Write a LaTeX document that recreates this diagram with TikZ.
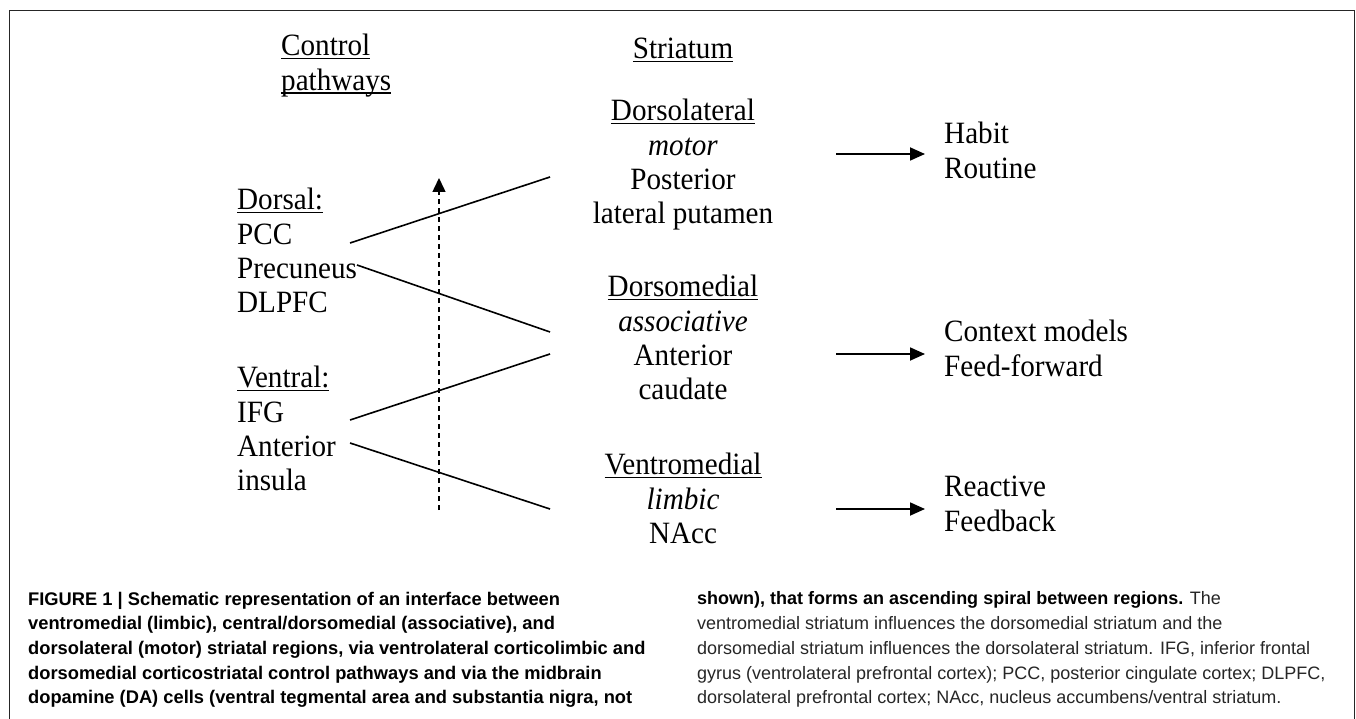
\documentclass[tikz,border=0pt]{standalone}
\usepackage{fontspec}
\setmainfont{Liberation Serif}[FakeStretch=0.94]
\newfontfamily\capfont{Liberation Sans}
\usetikzlibrary{arrows.meta}

% underline at a fixed depth (crosses descenders like the original)
\newcommand{\uword}[1]{\setbox0=\hbox{#1}\rlap{\rule[-3.7pt]{\wd0}{1.3pt}}\box0}

\begin{document}
\begin{tikzpicture}[x=1pt,y=-1pt,
    lbl/.style={font=\fontsize{31}{34.3}\selectfont, inner sep=0pt, execute at begin node=\strut},
    capt/.style={font=\capfont\fontsize{18}{24.7}\selectfont, inner sep=0pt, align=left, anchor=north west, execute at begin node=\strut},
    link/.style={line width=1.6pt},
    outarrow/.style={line width=1.8pt, -{Triangle[length=15pt,width=13pt]}, shorten >=19pt},
    spiral/.style={line width=1.5pt, dash pattern=on 5pt off 4pt, -{Triangle[length=14pt,width=13pt]}}
  ]
    % ==== Page and frame ====
    \useasboundingbox (0,0) rectangle (1356,719);
    \draw[line width=1pt, black!85] (9,725) -- (9,11) -- (1354,11) -- (1354,725);

    % Column headings
    \node[lbl, anchor=north west, align=left] (ctrl) at (281,34) {\uword{Control}\\\uword{pathways}};
    \node[lbl, anchor=north] (striatum) at (683,34) {\uword{Striatum}};

    % Control pathways (left column)
    \node[lbl, anchor=north west, align=left] (dorsal) at (237,188)
        {\uword{Dorsal:}\\PCC\\Precuneus\\DLPFC};
    \node[lbl, anchor=north west, align=left] (ventral) at (237,366)
        {\uword{Ventral:}\\IFG\\Anterior\\insula};

    % Striatal regions (middle column)
    \node[lbl, anchor=north, align=center] (dlat) at (683,99)
        {\uword{Dorsolateral}\\\textit{motor}\\Posterior\\lateral putamen};
    \node[lbl, anchor=north, align=center] (dmed) at (683,275)
        {\uword{Dorsomedial}\\\textit{associative}\\Anterior\\caudate};
    \node[lbl, anchor=north, align=center] (vmed) at (683,453)
        {\uword{Ventromedial}\\\textit{limbic}\\NAcc};

    % Outcomes (right column)
    \node[lbl, anchor=north west, align=left] (habit) at (944,122) {Habit\\Routine};
    \node[lbl, anchor=north west, align=left] (context) at (944,320) {Context models\\Feed-forward};
    \node[lbl, anchor=north west, align=left] (reactive) at (944,476) {Reactive\\Feedback};

    % ==== Connector ends ====
    \coordinate (pcc-e) at (350,243);
    \coordinate (prec-e) at (357,265);
    \coordinate (ifg-e) at (350,420);
    \coordinate (ins-e) at (350,443);
    \coordinate (dlat-w) at (550,177);
    \coordinate (dmed-w1) at (550,332);
    \coordinate (dmed-w2) at (550,354);
    \coordinate (vmed-w) at (550,509);
    \coordinate (dlat-e) at (836,154);
    \coordinate (dmed-e) at (836,354);
    \coordinate (vmed-e) at (836,509);
    \coordinate (da-bot) at (439,510);
    \coordinate (da-top) at (439,178);

    % Pathways into the striatum
    \draw[link] (pcc-e) -- (dlat-w);
    \draw[link] (prec-e) -- (dmed-w1);
    \draw[link] (ifg-e) -- (dmed-w2);
    \draw[link] (ins-e) -- (vmed-w);

    % Ascending spiral (DA cells)
    \draw[spiral] (da-bot) -- (da-top);

    % Striatum to behaviour
    \draw[outarrow] (dlat-e) -- (dlat-e -| habit.west);
    \draw[outarrow] (dmed-e) -- (dmed-e -| context.west);
    \draw[outarrow] (vmed-e) -- (vmed-e -| reactive.west);

    % ==== Caption ====
    \node[capt, font=\capfont\bfseries\fontsize{18.3}{24.7}\selectfont] (capleft) at (28,591.7) {%
        FIGURE 1 | Schematic representation of an interface between\\
        ventromedial (limbic), central/dorsomedial (associative), and\\
        dorsolateral (motor) striatal regions, via ventrolateral corticolimbic and\\
        dorsomedial corticostriatal control pathways and via the midbrain\\
        dopamine (DA) cells (ventral tegmental area and substantia nigra, not};
    \node[capt, text=black!85] (capright) at (697,591.7) {%
        \textcolor{black}{\bfseries shown), that forms an ascending spiral between regions.} The\\
        ventromedial striatum influences the dorsomedial striatum and the\\
        dorsomedial striatum influences the dorsolateral striatum. IFG, inferior frontal\\
        gyrus (ventrolateral prefrontal cortex); PCC, posterior cingulate cortex; DLPFC,\\
        dorsolateral prefrontal cortex; NAcc, nucleus accumbens/ventral striatum.};
\end{tikzpicture}
\end{document}
